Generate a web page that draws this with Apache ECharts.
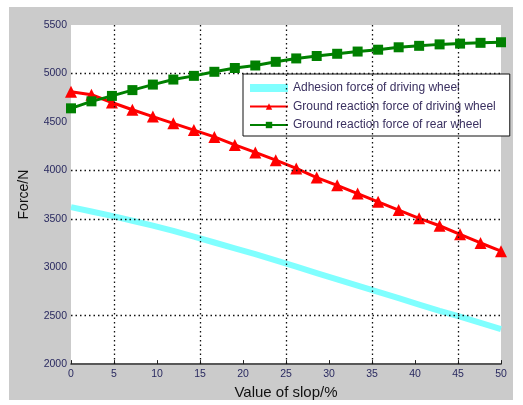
<!DOCTYPE html>
<html><head><meta charset="utf-8">
<script src="https://cdn.jsdelivr.net/npm/echarts@6/dist/echarts.min.js"></script>
<style>html,body{margin:0;padding:0;background:#fff}#c{width:523px;height:405px}</style>
</head><body><div id="c"></div>
<script>
const slope = [0, 2.38, 4.76, 7.14, 9.52, 11.9, 14.29, 16.67, 19.05, 21.43, 23.81, 26.19, 28.57, 30.95, 33.33, 35.71, 38.1, 40.48, 42.86, 45.24, 47.62, 50];
const adhesion = [3620, 3575, 3530, 3480, 3430, 3375, 3315, 3255, 3195, 3135, 3070, 3005, 2940, 2875, 2810, 2745, 2680, 2615, 2550, 2490, 2425, 2360];
const drivingReaction = [4810, 4780, 4700, 4625, 4555, 4485, 4415, 4345, 4262, 4185, 4105, 4020, 3925, 3845, 3760, 3675, 3590, 3505, 3428, 3340, 3250, 3165];
const rearReaction = [4640, 4712, 4768, 4828, 4885, 4937, 4975, 5017, 5056, 5082, 5120, 5155, 5180, 5203, 5226, 5245, 5270, 5285, 5300, 5308, 5316, 5322];
const seriesNames = ['Adhesion force of driving wheel', 'Ground reaction force of driving wheel', 'Ground reaction force of rear wheel'];
const xGrid = [5, 15, 25, 35, 45];
const yGrid = [2500, 3500, 4000, 5000];

const pair = arr => slope.map((x, i) => [x, arr[i]]);
const chart = echarts.init(document.getElementById('c'));
const gridLine = {color: '#111', width: 1.3, type: [1.5, 3]};
chart.setOption({
  animation: false,
  graphic: [{type: 'rect', z: -10, shape: {x: 9, y: 7, width: 504, height: 393}, style: {fill: '#cbcbcb'}},
            {type: 'rect', z: -9, shape: {x: 71, y: 25, width: 430, height: 340}, style: {fill: '#fff'}}],
  grid: {left: 71, right: 22, top: 25, bottom: 40},
  xAxis: {type: 'value', min: 0, max: 50, interval: 5,
    name: 'Value of slop/%', nameLocation: 'middle', nameGap: 20,
    nameTextStyle: {fontSize: 15, color: '#111', fontFamily: 'Liberation Sans'},
    axisLine: {lineStyle: {color: '#222', width: 1.5}},
    axisTick: {inside: true, length: 4, lineStyle: {color: '#222'}},
    axisLabel: {fontSize: 10.5, color: '#2a2a60', margin: 5, fontFamily: 'Liberation Sans'},
    splitLine: {show: false}},
  yAxis: {type: 'value', min: 2000, max: 5500, interval: 500,
    name: 'Force/N', nameLocation: 'middle', nameGap: 40, nameRotate: 90,
    nameTextStyle: {fontSize: 14, color: '#111', fontFamily: 'Liberation Sans'},
    axisLine: {show: false}, axisTick: {show: false},
    axisLabel: {fontSize: 10.5, color: '#2a2a60', margin: 4, fontFamily: 'Liberation Sans', formatter: v => String(v)},
    splitLine: {show: false}},
  legend: {orient: 'vertical', left: 243, top: 74,
    data: [{name: seriesNames[0], icon: 'rect'}, {name: seriesNames[1]}, {name: seriesNames[2]}],
    backgroundColor: '#fff', borderColor: '#111', borderWidth: 1,
    padding: [8, 14, 5, 6], itemWidth: 38, itemHeight: 8, itemGap: 6.5,
    textStyle: {fontSize: 12, lineHeight: 12, color: '#3a3060', fontFamily: 'Liberation Sans'}},
  series: [
    {type: 'line', name: 'grid', data: [], silent: true, z: 1,
     markLine: {silent: true, symbol: 'none', label: {show: false}, lineStyle: gridLine, animation: false,
       data: xGrid.map(v => ({xAxis: v})).concat(yGrid.map(v => ({yAxis: v})))}},
    {type: 'line', name: seriesNames[0], data: pair(adhesion), showSymbol: false, symbol: 'none',
     lineStyle: {color: '#80ffff', width: 6}, itemStyle: {color: '#80ffff'}, z: 3},
    {type: 'line', name: seriesNames[1], data: pair(drivingReaction), symbol: 'triangle', symbolSize: 12,
     lineStyle: {color: '#ff0000', width: 3}, itemStyle: {color: '#ff0000'}, z: 4},
    {type: 'line', name: seriesNames[2], data: pair(rearReaction), symbol: 'rect', symbolSize: 10,
     lineStyle: {color: '#008000', width: 3}, itemStyle: {color: '#008000'}, z: 5}
  ]
});
</script></body></html>
